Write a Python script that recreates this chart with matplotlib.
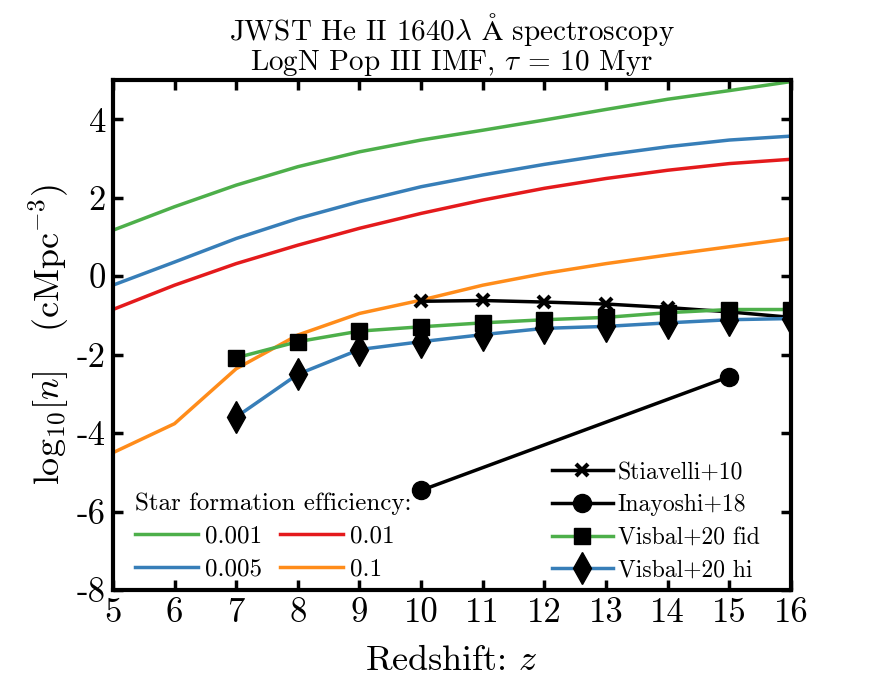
import matplotlib
matplotlib.use("Agg")
import matplotlib.pyplot as plt

plt.rcParams['font.family'] = 'cmr10'
plt.rcParams['mathtext.fontset'] = 'cm'
plt.rcParams['axes.unicode_minus'] = False
plt.rcParams['axes.formatter.use_mathtext'] = False

# redshift grid for the model curves
z = [5, 6, 7, 8, 9, 10, 11, 12, 13, 14, 15, 16]
sfe_001 = [1.17, 1.77, 2.32, 2.79, 3.17, 3.47, 3.72, 3.98, 4.25, 4.51, 4.73, 4.96]
sfe_005 = [-0.23, 0.36, 0.96, 1.47, 1.90, 2.28, 2.58, 2.85, 3.09, 3.30, 3.47, 3.57]
sfe_01 = [-0.85, -0.23, 0.32, 0.79, 1.22, 1.60, 1.94, 2.24, 2.49, 2.70, 2.87, 2.98]
sfe_1 = [-4.50, -3.76, -2.36, -1.50, -0.95, -0.61, -0.23, 0.07, 0.32, 0.54, 0.75, 0.96]

# literature comparisons
z_stia = [10, 11, 12, 13, 14, 15, 16]
stia = [-0.64, -0.62, -0.66, -0.71, -0.80, -0.91, -1.05]
z_inay = [10, 15]
inay = [-5.46, -2.56]
z_visbal = [7, 8, 9, 10, 11, 12, 13, 14, 15, 16]
visbal_fid = [-2.08, -1.67, -1.40, -1.29, -1.19, -1.11, -1.05, -0.93, -0.85, -0.85]
visbal_hi = [-3.59, -2.50, -1.87, -1.67, -1.49, -1.33, -1.28, -1.19, -1.11, -1.08]

verde = "#4daf4a"
azul = "#377eb8"
rojo = "#e41a1c"
naranja = "#ff8c1a"

fig = plt.figure(figsize=(8.75, 6.88), dpi=100)
ax = fig.add_axes([0.129, 0.1424, 0.775, 0.7413])

l1, = ax.plot(z, sfe_001, color=verde, lw=2.5, label="0.001")
l2, = ax.plot(z, sfe_005, color=azul, lw=2.5, label="0.005")
l3, = ax.plot(z, sfe_01, color=rojo, lw=2.5, label="0.01")
l4, = ax.plot(z, sfe_1, color=naranja, lw=2.5, label="0.1")

m1, = ax.plot(z_stia, stia, color="black", lw=2.5, marker="x", ms=9, mew=3,
              label="Stiavelli+10")
m2, = ax.plot(z_inay, inay, color="black", lw=2.5, marker="o", ms=13,
              label="Inayoshi+18")
m3, = ax.plot(z_visbal, visbal_fid, color=verde, lw=2.5, marker="s", ms=11,
              mfc="black", mec="black", label="Visbal+20 fid")
m4, = ax.plot(z_visbal, visbal_hi, color=azul, lw=2.5, marker="d", ms=16,
              mfc="black", mec="black", label="Visbal+20 hi")

ax.set_xlim(5, 16)
ax.set_ylim(-8, 5)
ax.set_xticks(range(5, 17))
ax.set_yticks([-8, -6, -4, -2, 0, 2, 4])
ax.tick_params(direction="in", top=True, right=True, length=7, width=2.5,
               labelsize=25, pad=5)
for s in ax.spines.values():
    s.set_linewidth(3)

ax.set_xlabel("Redshift: $z$", fontsize=26, labelpad=12)
ax.set_ylabel(r"$\log_{10}\![n]$   (cMpc$^{-3}$)", fontsize=26, labelpad=4)
ax.set_title("JWST He II 1640$\\lambda$ $\\mathrm{\\AA}$ spectroscopy\n"
             "LogN Pop III IMF, $\\tau$ = 10 Myr",
             fontsize=21, linespacing=1.0, pad=7)

leg1 = ax.legend(handles=[l1, l2, l3, l4], ncol=2, loc="lower left",
                 bbox_to_anchor=(0.0, -0.025), frameon=False, fontsize=18,
                 title="Star formation efficiency:", title_fontsize=18,
                 alignment="left", handlelength=2.5, columnspacing=0.7,
                 handletextpad=0.3, labelspacing=0.4)
ax.add_artist(leg1)
ax.legend(handles=[m1, m2, m3, m4], loc="lower right",
          bbox_to_anchor=(0.985, -0.025), frameon=False, fontsize=17,
          handlelength=2.6, handletextpad=0.2, labelspacing=0.45)

fig.savefig("out.png", dpi=100)
